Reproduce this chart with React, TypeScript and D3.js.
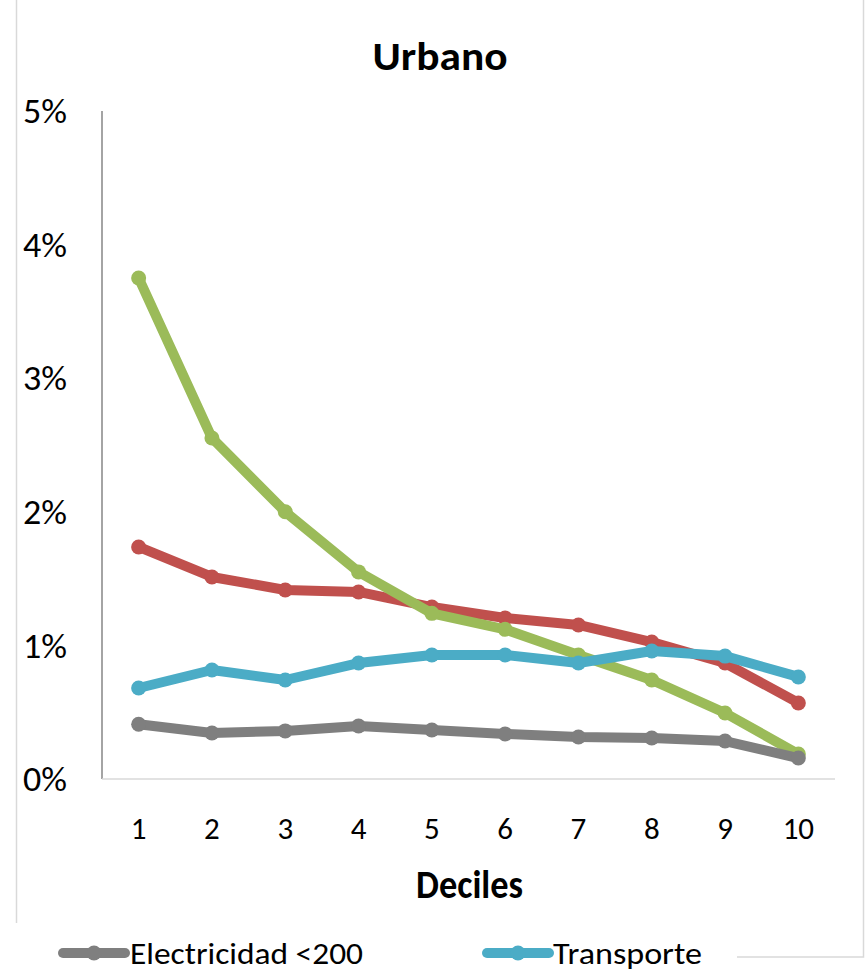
import React from "react";
import * as d3 from "d3";

const deciles = ["1", "2", "3", "4", "5", "6", "7", "8", "9", "10"];
const yTicks = [0, 0.01, 0.02, 0.03, 0.04, 0.05];

const electricidad = [0.41, 0.344, 0.36, 0.397, 0.367, 0.337, 0.314, 0.307, 0.284, 0.157].map((v) => v / 100);
const transporte = [0.681, 0.816, 0.741, 0.868, 0.928, 0.928, 0.868, 0.958, 0.92, 0.764].map((v) => v / 100);
const serieRoja = [1.737, 1.512, 1.415, 1.4, 1.287, 1.205, 1.153, 1.025, 0.868, 0.569].map((v) => v / 100);
const serieVerde = [3.75, 2.552, 2.0, 1.55, 1.24, 1.12, 0.928, 0.741, 0.494, 0.187].map((v) => v / 100);

const series = [
  { name: "Serie roja", values: serieRoja, color: "#C0504D" },
  { name: "Serie verde", values: serieVerde, color: "#9BBB59" },
  { name: "Transporte", values: transporte, color: "#4BACC6" },
  { name: "Electricidad <200", values: electricidad, color: "#7F7F7F" },
];

const legendItems = [
  { name: "Electricidad <200", color: "#7F7F7F", lx: 63, tx: 130, tw: 233 },
  { name: "Transporte", color: "#4BACC6", lx: 487, tx: 553, tw: 149 },
];

const FONT = "Carlito, Calibri, Lato, sans-serif";

export default function App() {
  const W = 868;
  const H = 970;
  const plot = { left: 102, right: 835, top: 111, bottom: 779 };

  const x = d3.scaleBand<string>().domain(deciles).range([plot.left, plot.right]);
  const y = d3.scaleLinear().domain([0, 0.05]).range([plot.bottom, plot.top]);
  const cx = (d: string) => (x(d) as number) + x.bandwidth() / 2;

  const line = d3
    .line<number>()
    .x((_, i) => cx(deciles[i]))
    .y((v) => y(v));

  return (
    <svg
      width={W}
      height={H}
      style={{ position: "absolute", left: 0, top: 0, background: "#fff" }}
      fontFamily={FONT}
    >
      <rect x={0} y={0} width={W} height={H} fill="#fff" />
      {/* chart border */}
      <rect x={16.5} y={-10} width={847} height={967} fill="none" stroke="#D9D9D9" strokeWidth={1.5} />
      {/* legend box covers border */}
      <rect x={8} y={923} width={729} height={60} fill="#fff" />

      {/* title */}
      <text x={440} y={70} textAnchor="middle" fontSize={40} fontWeight="bold" fill="#000" textLength={135} lengthAdjust="spacingAndGlyphs">
        Urbano
      </text>

      {/* axes */}
      <line x1={plot.left} x2={plot.left} y1={plot.top} y2={plot.bottom} stroke="#868686" strokeWidth={1.5} />
      <line x1={plot.left} x2={plot.right} y1={plot.bottom} y2={plot.bottom} stroke="#D9D9D9" strokeWidth={1.5} />

      {yTicks.map((t) => (
        <text key={t} x={67} y={y(t)} dy="0.36em" textAnchor="end" fontSize={34} fill="#000" textLength={44} lengthAdjust="spacingAndGlyphs">
          {d3.format(".0%")(t)}
        </text>
      ))}

      {deciles.map((d) => (
        <text key={d} x={cx(d)} y={839} textAnchor="middle" fontSize={31} fill="#000">
          {d}
        </text>
      ))}

      <text x={469.5} y={898} textAnchor="middle" fontSize={40} fontWeight="bold" fill="#000" textLength={107} lengthAdjust="spacingAndGlyphs">
        Deciles
      </text>

      {/* series */}
      {series.map((s) => (
        <g key={s.name}>
          <path d={line(s.values) || ""} fill="none" stroke={s.color} strokeWidth={10} strokeLinejoin="round" strokeLinecap="round" />
          {s.values.map((v, i) => (
            <circle key={i} cx={cx(deciles[i])} cy={y(v)} r={7.5} fill={s.color} />
          ))}
        </g>
      ))}

      {/* legend */}
      {legendItems.map((l) => (
        <g key={l.name}>
          <line x1={l.lx} x2={l.lx + 62} y1={953} y2={953} stroke={l.color} strokeWidth={10} strokeLinecap="round" />
          <circle cx={l.lx + 31} cy={953} r={7.5} fill={l.color} />
          <text x={l.tx} y={964} fontSize={31} fill="#000" textLength={l.tw} lengthAdjust="spacingAndGlyphs">
            {l.name}
          </text>
        </g>
      ))}
    </svg>
  );
}
